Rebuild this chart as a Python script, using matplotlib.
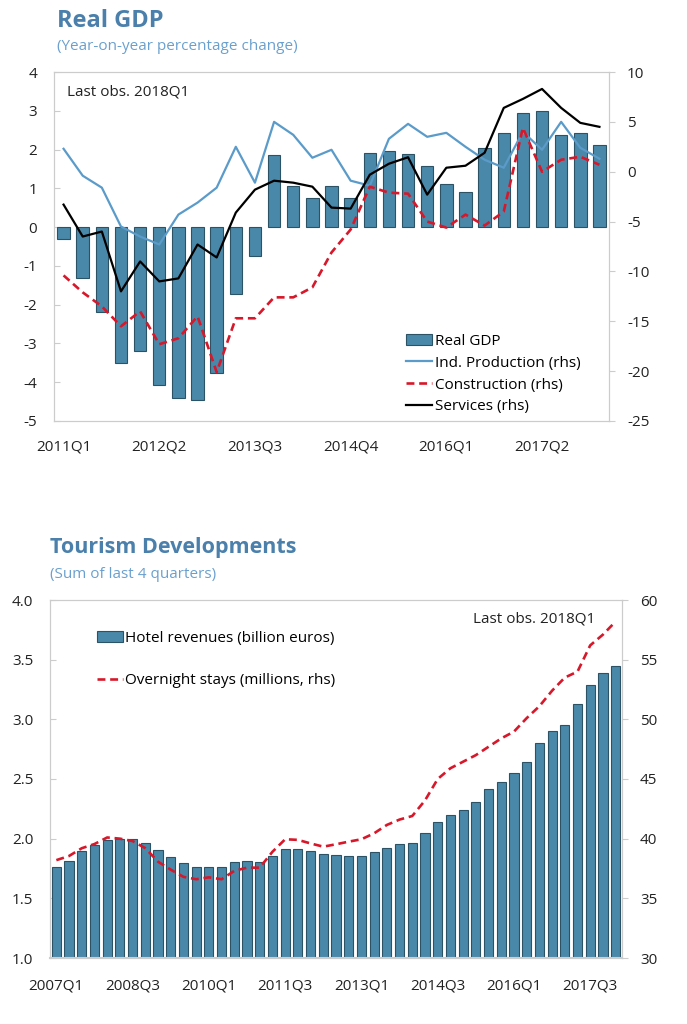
import matplotlib
matplotlib.use('Agg')
import matplotlib.pyplot as plt
import numpy as np

plt.rcParams['font.family'] = ['Open Sans', 'DejaVu Sans']
plt.rcParams['axes.unicode_minus'] = False


def quarters(start_year, n):
    return ['%dQ%d' % (start_year + i // 4, i % 4 + 1) for i in range(n)]


# --- Real GDP panel (2011Q1 - 2018Q1) ---
gdp_quarters = quarters(2011, 29)
gdp_ticklabels = ['2011Q1', '2012Q2', '2013Q3', '2014Q4', '2016Q1', '2017Q2']
real_gdp = [-0.3, -1.3, -2.2, -3.5, -3.2, -4.07, -4.4, -4.47, -3.75, -1.72, -0.75,
            1.85, 1.05, 0.75, 1.05, 0.75, 1.92, 1.95, 1.89, 1.57, 1.12, 0.91,
            2.04, 2.42, 2.94, 3.0, 2.37, 2.43, 2.13]
ind_production = [2.3, -0.4, -1.6, -5.5, -6.5, -7.3, -4.3, -3.1, -1.6, 2.5, -1.1,
                  5.0, 3.7, 1.4, 2.2, -0.9, -1.4, 3.3, 4.8, 3.5, 3.9, 2.5,
                  1.2, 0.4, 4.0, 2.2, 5.0, 2.4, 1.3]
construction = [-10.4, -12.1, -13.5, -15.5, -14.0, -17.3, -16.7, -14.5, -20.1, -14.7, -14.7,
                -12.6, -12.6, -11.6, -8.1, -5.8, -1.5, -2.1, -2.2, -5.0, -5.6, -4.3,
                -5.4, -4.0, 4.4, 0.0, 1.2, 1.5, 0.7]
services = [-3.3, -6.5, -6.0, -12.0, -9.0, -11.0, -10.7, -7.3, -8.6, -4.1, -1.8,
            -0.9, -1.1, -1.5, -3.6, -3.7, -0.3, 0.8, 1.45, -2.3, 0.4, 0.6,
            1.9, 6.4, 7.3, 8.3, 6.4, 4.9, 4.5]

# --- Tourism panel (2007Q1 - 2018Q1) ---
tour_quarters = quarters(2007, 45)
tour_ticklabels = ['2007Q1', '2008Q3', '2010Q1', '2011Q3', '2013Q1', '2014Q3', '2016Q1', '2017Q3']
hotel_revenues = [1.765, 1.816, 1.90, 1.947, 1.989, 1.997, 1.997, 1.966, 1.905, 1.844,
                  1.794, 1.765, 1.760, 1.760, 1.805, 1.81, 1.805, 1.855, 1.911, 1.911,
                  1.90, 1.874, 1.866, 1.857, 1.857, 1.891, 1.925, 1.956, 1.967, 2.05,
                  2.14, 2.20, 2.24, 2.305, 2.42, 2.478, 2.548, 2.645, 2.805, 2.903,
                  2.953, 3.127, 3.288, 3.391, 3.45]
overnight_stays = [38.2, 38.55, 39.2, 39.55, 40.1, 40.0, 39.8, 39.2, 38.07, 37.4,
                   36.8, 36.6, 36.76, 36.6, 37.3, 37.57, 37.57, 38.9, 39.95, 39.9,
                   39.6, 39.33, 39.53, 39.75, 39.95, 40.45, 41.15, 41.6, 41.9, 43.2,
                   45.0, 45.9, 46.45, 47.0, 47.7, 48.4, 48.97, 50.1, 51.1, 52.4,
                   53.5, 54.0, 56.2, 57.1, 58.2]

BAR = '#4a88a9'
BAR_EDGE = '#2c5266'
BLUE = '#5b9bc9'
RED = '#d7182a'
TITLE = '#4a80ab'
SUBTITLE = '#6aa0cf'
SPINE = '#cccccc'
TXT = '#222222'
FS = 11
DASH = (0, (3, 1.8))

fig = plt.figure(figsize=(6.87, 10.24), dpi=100)


def style_axes(ax, axr):
    for a in (ax, axr):
        for s in a.spines.values():
            s.set_color(SPINE)
    ax.tick_params(axis='y', direction='in', length=4, color=SPINE, labelsize=FS,
                   labelcolor=TXT, pad=12)
    axr.tick_params(axis='y', direction='out', length=4, color=SPINE, labelsize=FS,
                    labelcolor=TXT, pad=9)
    ax.tick_params(axis='x', length=0, labelsize=FS, labelcolor=TXT, pad=13)


# ---------- Real GDP ----------
fig.text(57 / 687, 1 - 21 / 1024, 'Real GDP', fontsize=17, fontweight='bold',
         color=TITLE, va='center')
fig.text(57 / 687, 1 - 47 / 1024, '(Year-on-year percentage change)', fontsize=11,
         color=SUBTITLE, va='center')

ax1 = fig.add_axes([54 / 687, 1 - 421 / 1024, 555 / 687, 349 / 1024])
x1 = np.arange(len(gdp_quarters))
ax1.bar(x1, real_gdp, width=0.65, color=BAR, edgecolor=BAR_EDGE, linewidth=0.8,
        label='Real GDP', zorder=2)
ax1.set_xlim(-0.5, len(x1) - 0.5)
ax1.set_ylim(-5, 4)
ax1.set_yticks(range(-5, 5))
ax1.set_xticks([gdp_quarters.index(t) for t in gdp_ticklabels])
ax1.set_xticklabels(gdp_ticklabels)

ax1r = ax1.twinx()
ax1r.plot(x1, ind_production, color=BLUE, lw=1.6, label='Ind. Production (rhs)')
ax1r.plot(x1, construction, color=RED, lw=1.9, ls=DASH, label='Construction (rhs)')
ax1r.plot(x1, services, color='black', lw=1.6, label='Services (rhs)')
ax1r.set_ylim(-25, 10)
ax1r.set_yticks(range(-25, 11, 5))
style_axes(ax1, ax1r)

ax1.text(0.023, 0.943, 'Last obs. 2018Q1', transform=ax1.transAxes, fontsize=FS,
         color=TXT, va='center')

h1, l1 = ax1.get_legend_handles_labels()
h2, l2 = ax1r.get_legend_handles_labels()
ax1r.legend(h1 + h2, l1 + l2, loc='upper left', bbox_to_anchor=(0.635, 0.25),
            frameon=False, fontsize=FS, handlelength=1.7, handletextpad=0.15,
            labelspacing=0.45, borderpad=0, borderaxespad=0)

# ---------- Tourism ----------
fig.text(50 / 687, 1 - 548 / 1024, 'Tourism Developments', fontsize=15.5,
         fontweight='bold', color=TITLE, va='center')
fig.text(50 / 687, 1 - 575 / 1024, '(Sum of last 4 quarters)', fontsize=11,
         color=SUBTITLE, va='center')

ax2 = fig.add_axes([50 / 687, 1 - 958 / 1024, 572 / 687, 358 / 1024])
x2 = np.arange(len(tour_quarters))
ax2.bar(x2, np.array(hotel_revenues) - 1.0, bottom=1.0, width=0.72, color=BAR,
        edgecolor=BAR_EDGE, linewidth=0.8, label='Hotel revenues (billion euros)',
        zorder=2)
ax2.set_xlim(-0.5, len(x2) - 0.5)
ax2.set_ylim(1.0, 4.0)
ax2.set_yticks(np.arange(1.0, 4.01, 0.5))
ax2.set_yticklabels(['%.1f' % v for v in np.arange(1.0, 4.01, 0.5)])
ax2.set_xticks([tour_quarters.index(t) for t in tour_ticklabels])
ax2.set_xticklabels(tour_ticklabels)

ax2r = ax2.twinx()
ax2r.plot(x2, overnight_stays, color=RED, lw=1.9, ls=DASH,
          label='Overnight stays (millions, rhs)')
ax2r.set_ylim(30, 60)
ax2r.set_yticks(range(30, 61, 5))
style_axes(ax2, ax2r)
ax2.tick_params(axis='x', pad=15)
ax2.spines['bottom'].set_linewidth(1.5)

ax2.text(0.953, 0.947, 'Last obs. 2018Q1', transform=ax2.transAxes, fontsize=FS,
         color=TXT, va='center', ha='right')

h1, l1 = ax2.get_legend_handles_labels()
h2, l2 = ax2r.get_legend_handles_labels()
ax2r.legend(h1 + h2, l1 + l2, loc='upper left', bbox_to_anchor=(0.082, 0.913),
            frameon=False, fontsize=FS, handlelength=1.7, handletextpad=0.15,
            labelspacing=1.75, borderpad=0, borderaxespad=0)

fig.savefig('out.png', dpi=100)
